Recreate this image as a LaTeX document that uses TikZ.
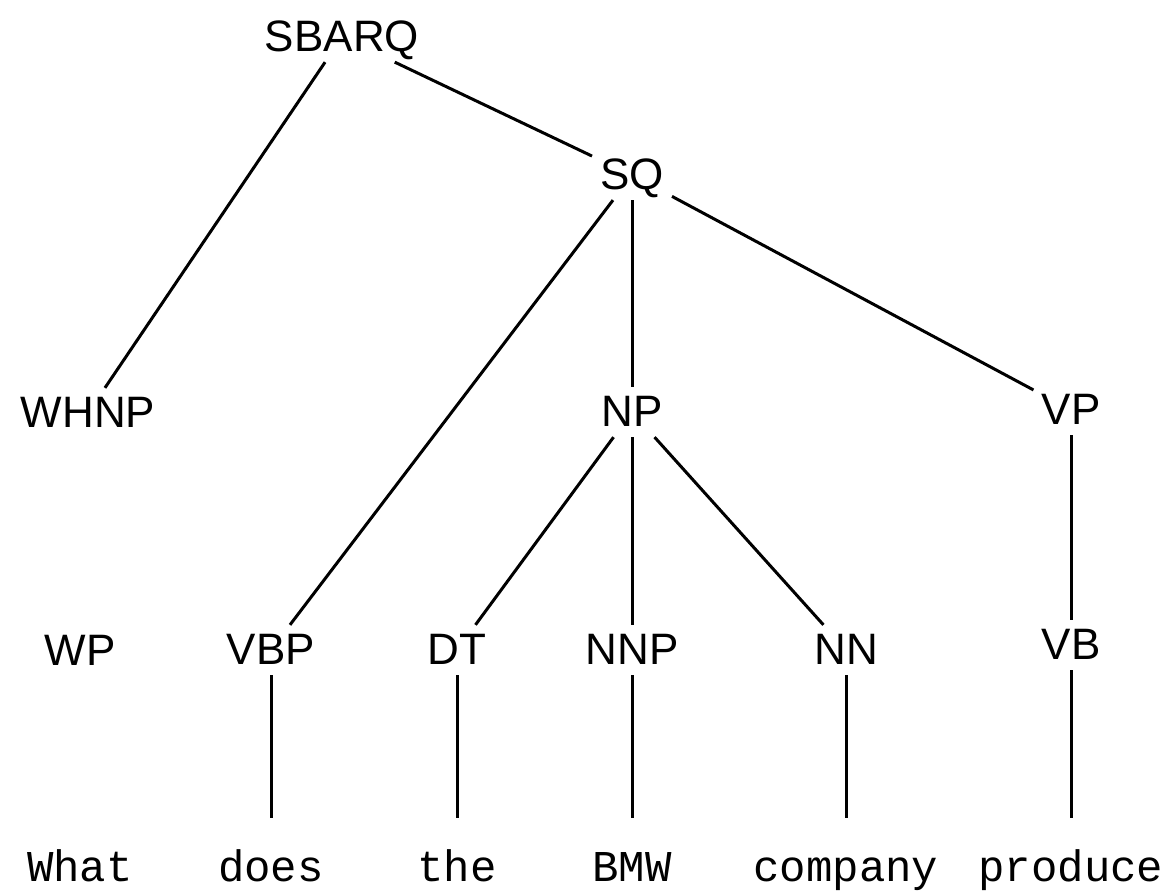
\documentclass[tikz,border=0pt]{standalone}
\usepackage{fontspec}
\setmainfont{Liberation Sans}
\setmonofont{Liberation Mono}
\begin{document}
\begin{tikzpicture}[x=1pt,y=-1pt,
    tag/.style={font=\fontsize{44}{50}\selectfont, inner sep=8pt,
      text height=31.7pt, text depth=2.2pt},
    word/.style={font=\ttfamily\fontsize{44}{50}\selectfont, inner xsep=4pt,
      inner ysep=36pt, text height=27.7pt, text depth=8.8pt}]
      \useasboundingbox (0,0) rectangle (1170,893);
      \draw
        (342,37) node[tag] (sbarq){SBARQ}
        (632,175) node[tag] (sq){SQ}
        (88,413) node[tag] (whnp){WHNP}
        (632,412) node[tag] (np){NP}
        (1071,410) node[tag] (vp){VP}
        (80,651) node[tag] (wp){WP}
        (271,650) node[tag] (vbp){VBP}
        (457,650) node[tag] (dt){DT}
        (632,650) node[tag] (nnp){NNP}
        (846,650) node[tag] (nn){NN}
        (1071,645) node[tag] (vb){VB};
      \draw
        (80,872) node[word] (what){What}
        (271,872) node[word] (does){does}
        (457,872) node[word] (the){the}
        (632,872) node[word] (bmw){BMW}
        (846,872) node[word] (company){company}
        (1071,872) node[word] (produce){produce};
      \begin{scope}[-, line width=3pt]
        \draw (sbarq) to (whnp);
        \draw (sbarq) to (sq);
        \draw (sq) to (vbp);
        \draw (sq) to (np);
        \draw (sq) to (vp);
        \draw (np) to (dt);
        \draw (np) to (nnp);
        \draw (np) to (nn);
        \draw (vp) to (vb);
        \draw (vbp) to (does);
        \draw (dt) to (the);
        \draw (nnp) to (bmw);
        \draw (nn) to (company);
        \draw (vb) to (produce);
      \end{scope}
    \end{tikzpicture}
\end{document}
